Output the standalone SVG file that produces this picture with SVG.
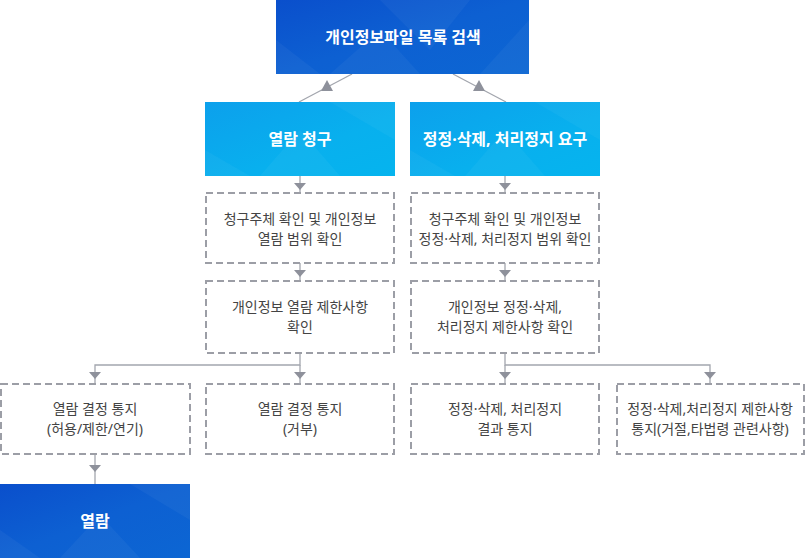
<svg xmlns="http://www.w3.org/2000/svg" width="805" height="558" viewBox="0 0 805 558">
<defs>
<linearGradient id="gDark" x1="0" y1="0" x2="1" y2="1">
<stop offset="0" stop-color="#0a4fcc"/>
<stop offset="0.5" stop-color="#0d60d2"/>
<stop offset="1" stop-color="#0c66d3"/>
</linearGradient>
<linearGradient id="gLight" x1="0" y1="0" x2="1" y2="1">
<stop offset="0" stop-color="#0ca0ec"/>
<stop offset="0.6" stop-color="#08b0ee"/>
<stop offset="1" stop-color="#05b4ee"/>
</linearGradient>
</defs>
<style>
.dash{fill:#fff;stroke:#9c9ea6;stroke-width:2;stroke-dasharray:7 4}
.t{font-family:"Noto Sans","Noto Sans CJK KR",sans-serif;font-size:14px;fill:#444;text-anchor:middle}
.w{font-family:"Noto Sans","Noto Sans CJK KR",sans-serif;font-size:16px;font-weight:bold;fill:#fff;text-anchor:middle}
.ln{fill:none;stroke:#a3a6ae;stroke-width:1.3}
.ar{fill:#8e919b}
.fac{fill:#fff;opacity:0.04}
</style>

<g id="connectors">
<line class="ln" x1="352" y1="74" x2="299" y2="102"/>
<polygon class="ar" points="327,80 333,91 321,91"/>
<line class="ln" x1="453" y1="74" x2="506" y2="102"/>
<polygon class="ar" points="479,80 485,91 473,91"/>

<line class="ln" x1="300" y1="176" x2="300" y2="192"/>
<polygon class="ar" points="294,183 306,183 300,190"/>
<line class="ln" x1="505" y1="176" x2="505" y2="192"/>
<polygon class="ar" points="499,183 511,183 505,190"/>

<line class="ln" x1="300" y1="263" x2="300" y2="280"/>
<polygon class="ar" points="294,270 306,270 300,277"/>
<line class="ln" x1="505" y1="263" x2="505" y2="280"/>
<polygon class="ar" points="499,270 511,270 505,277"/>

<polyline class="ln" points="300,353 300,365 95,365 95,383"/>
<line class="ln" x1="300" y1="365" x2="300" y2="383"/>
<polygon class="ar" points="89,372 101,372 95,379"/>
<polygon class="ar" points="294,372 306,372 300,379"/>

<polyline class="ln" points="505,353 505,365 710,365 710,383"/>
<line class="ln" x1="505" y1="365" x2="505" y2="383"/>
<polygon class="ar" points="499,372 511,372 505,379"/>
<polygon class="ar" points="704,372 716,372 710,379"/>

<line class="ln" x1="95" y1="454" x2="95" y2="484"/>
<polygon class="ar" points="89,465 101,465 95,472"/>
</g>

<g id="search">
<rect x="276" y="0" width="253" height="74" fill="url(#gDark)"/>
<polygon class="fac" points="276,40 320,74 276,74"/>
<polygon class="fac" points="380,0 430,50 470,0"/>
<polygon class="fac" points="330,74 380,30 420,74"/>
<polygon class="fac" points="480,74 529,20 529,74"/>
<text class="w" x="403" y="43">개인정보파일 목록 검색</text>
</g>

<g id="req-view">
<rect x="205" y="102" width="190" height="74" fill="url(#gLight)"/>
<polygon class="fac" points="205,150 250,176 205,176"/>
<polygon class="fac" points="260,176 300,130 340,176"/>
<polygon class="fac" points="330,102 395,140 395,102"/>
<text class="w" x="300" y="145">열람 청구</text>
</g>

<g id="req-correct">
<rect x="410" y="102" width="190" height="74" fill="url(#gLight)"/>
<polygon class="fac" points="410,150 455,176 410,176"/>
<polygon class="fac" points="465,176 505,130 545,176"/>
<polygon class="fac" points="535,102 600,140 600,102"/>
<text class="w" x="505" y="145">정정·삭제, 처리정지 요구</text>
</g>

<g id="check-view">
<rect class="dash" x="206" y="193" width="188" height="70"/>
<text class="t" x="300" y="224">청구주체 확인 및 개인정보</text>
<text class="t" x="300" y="244">열람 범위 확인</text>
</g>

<g id="check-correct">
<rect class="dash" x="411" y="193" width="188" height="70"/>
<text class="t" x="505" y="224">청구주체 확인 및 개인정보</text>
<text class="t" x="505" y="244">정정·삭제, 처리정지 범위 확인</text>
</g>

<g id="limit-view">
<rect class="dash" x="206" y="281" width="188" height="72"/>
<text class="t" x="300" y="312">개인정보 열람 제한사항</text>
<text class="t" x="300" y="332">확인</text>
</g>

<g id="limit-correct">
<rect class="dash" x="411" y="281" width="188" height="72"/>
<text class="t" x="505" y="312">개인정보 정정·삭제,</text>
<text class="t" x="505" y="332">처리정지 제한사항 확인</text>
</g>

<g id="notice-allow">
<rect class="dash" x="1" y="384" width="189" height="70"/>
<text class="t" x="95" y="414">열람 결정 통지</text>
<text class="t" x="95" y="434">(허용/제한/연기)</text>
</g>

<g id="notice-deny">
<rect class="dash" x="206" y="384" width="188" height="70"/>
<text class="t" x="300" y="414">열람 결정 통지</text>
<text class="t" x="300" y="434">(거부)</text>
</g>

<g id="notice-result">
<rect class="dash" x="411" y="384" width="188" height="70"/>
<text class="t" x="505" y="414">정정·삭제, 처리정지</text>
<text class="t" x="505" y="434">결과 통지</text>
</g>

<g id="notice-limit">
<rect class="dash" x="617" y="384" width="187" height="70"/>
<text class="t" x="710" y="414">정정·삭제,처리정지 제한사항</text>
<text class="t" x="710" y="434">통지(거절,타법령 관련사항)</text>
</g>

<g id="view">
<rect x="0" y="484" width="190" height="74" fill="url(#gDark)"/>
<polygon class="fac" points="0,530 40,558 0,558"/>
<polygon class="fac" points="60,558 100,515 140,558"/>
<polygon class="fac" points="130,484 190,520 190,484"/>
<text class="w" x="95" y="527">열람</text>
</g>
</svg>
